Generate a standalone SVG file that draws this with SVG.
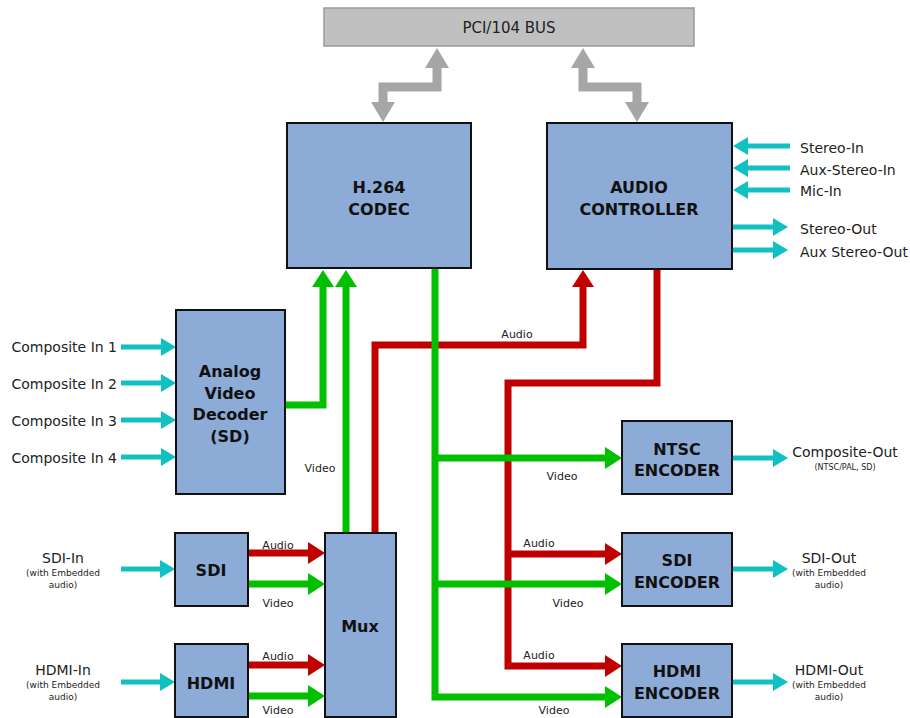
<svg xmlns="http://www.w3.org/2000/svg" width="910" height="718" viewBox="0 0 910 718">
<style>
.box{fill:#8dabd7;stroke:#111;stroke-width:2}
.bus{fill:#c0c0c0;stroke:#999;stroke-width:1.5}
.t{font-family:"DejaVu Sans",Verdana,sans-serif;fill:#222}
.lb{font-size:14px}
.sm{font-size:9px}
.xs{font-size:11px}
.b{font-family:"DejaVu Sans",Verdana,sans-serif;font-weight:bold;font-size:16px;fill:#111;text-anchor:middle}
.red{fill:none;stroke:#c00000;stroke-width:7}
.grn{fill:none;stroke:#00c000;stroke-width:7}
.cy{fill:none;stroke:#11c0c0;stroke-width:5}
.gry{fill:none;stroke:#a6a6a6;stroke-width:9}
</style>
<defs>
<marker id="mr" markerUnits="userSpaceOnUse" markerWidth="18" markerHeight="24" refX="0" refY="12" orient="auto"><path d="M0,1 L17,12 L0,23 z" fill="#c00000"/></marker>
<marker id="mg" markerUnits="userSpaceOnUse" markerWidth="18" markerHeight="24" refX="0" refY="12" orient="auto"><path d="M0,1 L17,12 L0,23 z" fill="#00c000"/></marker>
<marker id="mc" markerUnits="userSpaceOnUse" markerWidth="16" markerHeight="20" refX="0" refY="10" orient="auto"><path d="M0,1 L15,10 L0,19 z" fill="#11c0c0"/></marker>
<marker id="mgy" markerUnits="userSpaceOnUse" markerWidth="22" markerHeight="26" refX="0" refY="13" orient="auto-start-reverse"><path d="M0,1 L20,13 L0,25 z" fill="#a6a6a6"/></marker>
</defs>

<g id="connectors">
<path class="gry" d="M437,68 V87 H383 V102" marker-start="url(#mgy)" marker-end="url(#mgy)"/>
<path class="gry" d="M583,68 V87 H637 V102" marker-start="url(#mgy)" marker-end="url(#mgy)"/>

<path class="red" d="M375,533 V345 H583 V287" marker-end="url(#mr)"/>
<path class="red" d="M657,269 V383 H508 V666 H605" marker-end="url(#mr)"/>
<path class="red" d="M508,554 H605" marker-end="url(#mr)"/>

<path class="grn" d="M285,405 H323 V287" marker-end="url(#mg)"/>
<path class="grn" d="M346,533 V287" marker-end="url(#mg)"/>
<path class="grn" d="M435,268 V697 H605" marker-end="url(#mg)"/>
<path class="grn" d="M435,458 H605" marker-end="url(#mg)"/>
<path class="grn" d="M435,584 H605" marker-end="url(#mg)"/>

<path class="red" d="M248,553 H308" marker-end="url(#mr)"/>
<path class="grn" d="M248,584 H308" marker-end="url(#mg)"/>
<path class="red" d="M248,665 H308" marker-end="url(#mr)"/>
<path class="grn" d="M248,696 H308" marker-end="url(#mg)"/>

<path class="cy" d="M121,347 H161" marker-end="url(#mc)"/>
<path class="cy" d="M121,383 H161" marker-end="url(#mc)"/>
<path class="cy" d="M121,420 H161" marker-end="url(#mc)"/>
<path class="cy" d="M121,457 H161" marker-end="url(#mc)"/>
<path class="cy" d="M121,569 H160" marker-end="url(#mc)"/>
<path class="cy" d="M121,682 H160" marker-end="url(#mc)"/>

<path class="cy" d="M790,146 H748" marker-end="url(#mc)"/>
<path class="cy" d="M790,168 H748" marker-end="url(#mc)"/>
<path class="cy" d="M790,190 H748" marker-end="url(#mc)"/>
<path class="cy" d="M732,227 H773" marker-end="url(#mc)"/>
<path class="cy" d="M732,250 H773" marker-end="url(#mc)"/>

<path class="cy" d="M732,458 H773" marker-end="url(#mc)"/>
<path class="cy" d="M732,569 H773" marker-end="url(#mc)"/>
<path class="cy" d="M732,682 H773" marker-end="url(#mc)"/>

<text class="t xs" x="278" y="549" text-anchor="middle">Audio</text>
<text class="t xs" x="278" y="607" text-anchor="middle">Video</text>
<text class="t xs" x="278" y="660" text-anchor="middle">Audio</text>
<text class="t xs" x="278" y="714" text-anchor="middle">Video</text>
<text class="t xs" x="320" y="472" text-anchor="middle">Video</text>
<text class="t xs" x="517" y="338" text-anchor="middle">Audio</text>
<text class="t xs" x="562" y="480" text-anchor="middle">Video</text>
<text class="t xs" x="539" y="547" text-anchor="middle">Audio</text>
<text class="t xs" x="568" y="607" text-anchor="middle">Video</text>
<text class="t xs" x="539" y="659" text-anchor="middle">Audio</text>
<text class="t xs" x="554" y="714" text-anchor="middle">Video</text>
</g>

<g id="bus">
<rect class="bus" x="324" y="8" width="370" height="38"/>
<text class="t lb" x="509" y="33" text-anchor="middle" style="font-size:15px">PCI/104 BUS</text>
</g>

<g id="codec">
<rect class="box" x="287" y="123" width="184" height="145"/>
<text class="b" x="379" y="193">H.264</text>
<text class="b" x="379" y="215">CODEC</text>
</g>

<g id="audio">
<rect class="box" x="547" y="123" width="185" height="146"/>
<text class="b" x="639" y="193">AUDIO</text>
<text class="b" x="639" y="215">CONTROLLER</text>
</g>

<g id="audio-io">
<text class="t lb" x="800" y="153">Stereo-In</text>
<text class="t lb" x="800" y="175">Aux-Stereo-In</text>
<text class="t lb" x="800" y="196">Mic-In</text>
<text class="t lb" x="800" y="234">Stereo-Out</text>
<text class="t lb" x="800" y="257">Aux Stereo-Out</text>
</g>

<g id="decoder">
<rect class="box" x="176" y="310" width="109" height="184"/>
<text class="b" x="230" y="377">Analog</text>
<text class="b" x="230" y="399">Video</text>
<text class="b" x="230" y="420">Decoder</text>
<text class="b" x="230" y="442">(SD)</text>
</g>

<g id="composite-in">
<text class="t lb" x="117" y="352" text-anchor="end">Composite In 1</text>
<text class="t lb" x="117" y="389" text-anchor="end">Composite In 2</text>
<text class="t lb" x="117" y="426" text-anchor="end">Composite In 3</text>
<text class="t lb" x="117" y="463" text-anchor="end">Composite In 4</text>
</g>

<g id="sdi">
<rect class="box" x="175" y="533" width="73" height="73"/>
<text class="b" x="211" y="576">SDI</text>
</g>

<g id="hdmi">
<rect class="box" x="175" y="644" width="73" height="73"/>
<text class="b" x="211" y="689">HDMI</text>
</g>

<g id="sdi-in">
<text class="t lb" x="63" y="563" text-anchor="middle">SDI-In</text>
<text class="t sm" x="63" y="576" text-anchor="middle">(with Embedded</text>
<text class="t sm" x="63" y="588" text-anchor="middle">audio)</text>
</g>

<g id="hdmi-in">
<text class="t lb" x="63" y="675" text-anchor="middle">HDMI-In</text>
<text class="t sm" x="63" y="688" text-anchor="middle">(with Embedded</text>
<text class="t sm" x="63" y="700" text-anchor="middle">audio)</text>
</g>

<g id="mux">
<rect class="box" x="325" y="533" width="71" height="184"/>
<text class="b" x="360" y="632">Mux</text>
</g>

<g id="ntsc">
<rect class="box" x="622" y="421" width="110" height="73"/>
<text class="b" x="677" y="455">NTSC</text>
<text class="b" x="677" y="476">ENCODER</text>
</g>

<g id="sdi-enc">
<rect class="box" x="622" y="533" width="110" height="73"/>
<text class="b" x="677" y="566">SDI</text>
<text class="b" x="677" y="588">ENCODER</text>
</g>

<g id="hdmi-enc">
<rect class="box" x="622" y="644" width="110" height="73"/>
<text class="b" x="677" y="677">HDMI</text>
<text class="b" x="677" y="699">ENCODER</text>
</g>

<g id="outputs">
<text class="t lb" x="845" y="457" text-anchor="middle">Composite-Out</text>
<text class="t sm" x="845" y="470" text-anchor="middle" style="font-size:8px">(NTSC/PAL, SD)</text>
<text class="t lb" x="829" y="563" text-anchor="middle">SDI-Out</text>
<text class="t sm" x="829" y="576" text-anchor="middle">(with Embedded</text>
<text class="t sm" x="829" y="588" text-anchor="middle">audio)</text>
<text class="t lb" x="829" y="675" text-anchor="middle">HDMI-Out</text>
<text class="t sm" x="829" y="688" text-anchor="middle">(with Embedded</text>
<text class="t sm" x="829" y="700" text-anchor="middle">audio)</text>
</g>
</svg>
